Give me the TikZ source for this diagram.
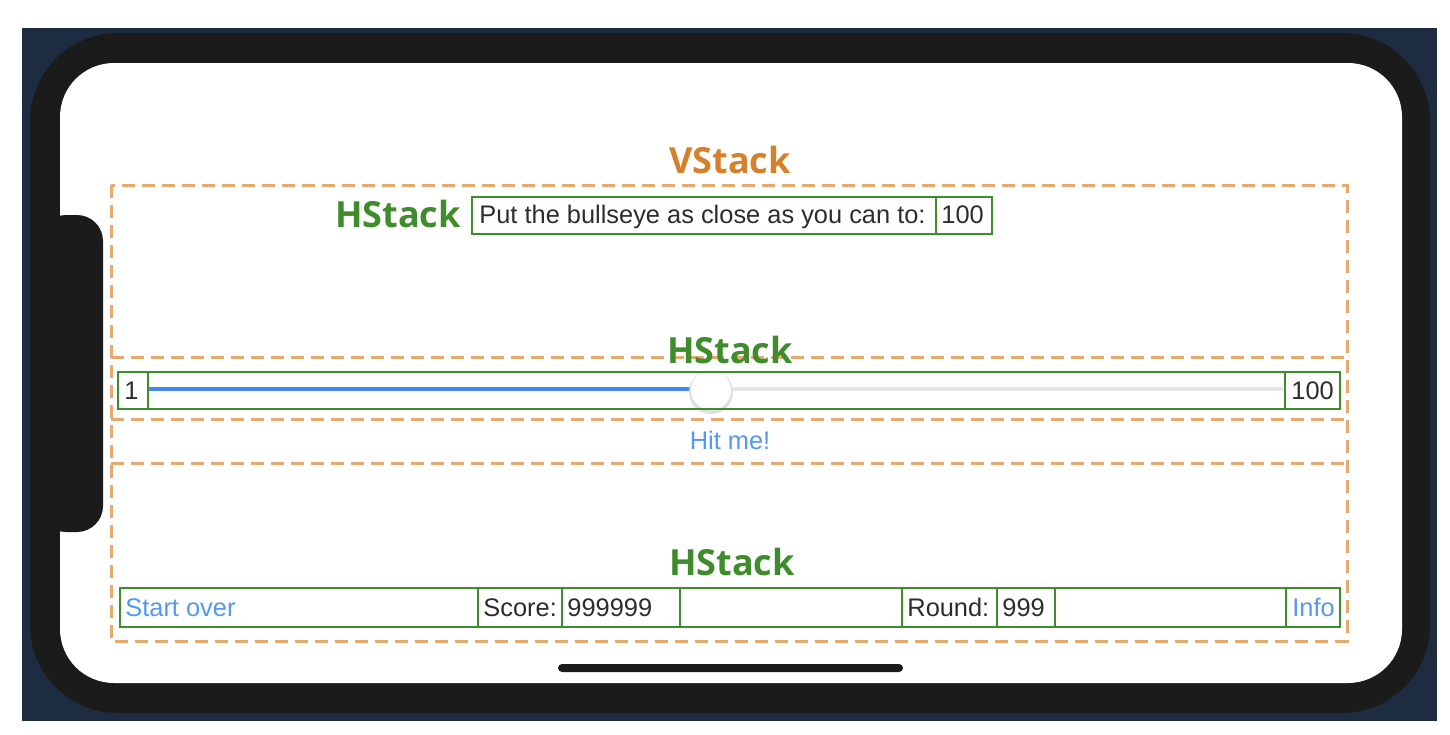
\documentclass[tikz,border=0pt]{standalone}
\usepackage{fontspec}
\setmainfont{Liberation Sans}
\newfontfamily\stackfont{Open Sans}
\usepackage{tikz}
\usetikzlibrary{positioning}
\definecolor{stkorange}{RGB}{214,128,44}
\definecolor{stkdash}{RGB}{232,170,108}
\definecolor{stkgreen}{RGB}{62,140,44}
\definecolor{uiblue}{RGB}{84,152,240}
\definecolor{uitrack}{RGB}{66,133,240}
\definecolor{uitext}{RGB}{45,45,45}
\definecolor{phoneblack}{RGB}{27,27,27}
\definecolor{deskblue}{RGB}{30,44,66}

\begin{document}
\begin{tikzpicture}[x=.5pt,y=-.5pt,
  stack/.style={draw=stkdash,line width=1.5pt,dash pattern=on 6.5pt off 3.5pt},
  cell/.style={draw=stkgreen,line width=1.2pt},
  vlabel/.style={font=\stackfont\bfseries\fontsize{18}{20}\selectfont,text=stkorange,inner sep=0pt,anchor=base},
  hlabel/.style={font=\stackfont\bfseries\fontsize{18}{20}\selectfont,text=stkgreen,inner sep=0pt,anchor=base},
  uitxt/.style={font=\fontsize{12.7}{14}\selectfont,text=uitext,anchor=base west,inner sep=0pt},
  uibtn/.style={uitxt,text=uiblue}]

\path[use as bounding box] (0,0) rectangle (1450,734);
\fill[deskblue] (22,28) rectangle (1437,721);
\fill[phoneblack,rounded corners=44pt] (30,33) rectangle (1430,713);
\fill[white,rounded corners=27pt] (60,63) rectangle (1402,683);
\fill[phoneblack,rounded corners=13pt] (40,215) rectangle (103,532);
\fill[phoneblack,rounded corners=2pt] (558,664) rectangle (903,672);

\draw[stack] (111,185) rectangle (1347,641);
\foreach \yy in {357,419,463}
  \draw[stack] (111,\yy) -- (1347,\yy);
\node[vlabel] (vstack) at (730,173) {VStack};

\node[hlabel,anchor=base east] (hstacktop) at (461,227) {HStack};
\draw[cell] (472,197) rectangle (936,234);
\draw[cell] (936,197) rectangle (992,234);
\node[uitxt] (target) at (479,223.5) {Put the bullseye as close as you can to:};
\node[uitxt] (targetval) at (941,223.5) {100};

\draw[uitrack,line width=1.6pt,line cap=round] (150,389) -- (692,389);
\draw[black!10,line width=1.6pt] (730,389) -- (1283,389);
\fill[black!12] (711,392) circle (11pt);
\fill[white] (711,390) circle (10pt);
\draw[cell] (118,372) rectangle (1340,409);
\foreach \xx in {148,1285}
  \draw[cell] (\xx,372) -- (\xx,409);
\node[uitxt] (slidermin) at (124,399) {1};
\node[uitxt] (slidermax) at (1291,399) {100};
\node[hlabel] (hstackmid) at (730,363) {HStack};

\node[uibtn,anchor=base] (hitbtn) at (730,449) {Hit me!};

\node[hlabel] (hstackbot) at (732,575) {HStack};
\draw[cell] (120,588) rectangle (1340,627);
\foreach \xx in {478,562,680,902,997,1055,1286}
  \draw[cell] (\xx,588) -- (\xx,627);
\node[uibtn] (startbtn) at (125,616) {Start over};
\node[uitxt] (scorelbl) at (483,616) {Score:};
\node[uitxt] (scoreval) at (567,616) {999999};
\node[uitxt] (roundlbl) at (907,616) {Round:};
\node[uitxt] (roundval) at (1002,616) {999};
\node[uibtn] (infobtn) at (1292,616) {Info};

\end{tikzpicture}
\end{document}
